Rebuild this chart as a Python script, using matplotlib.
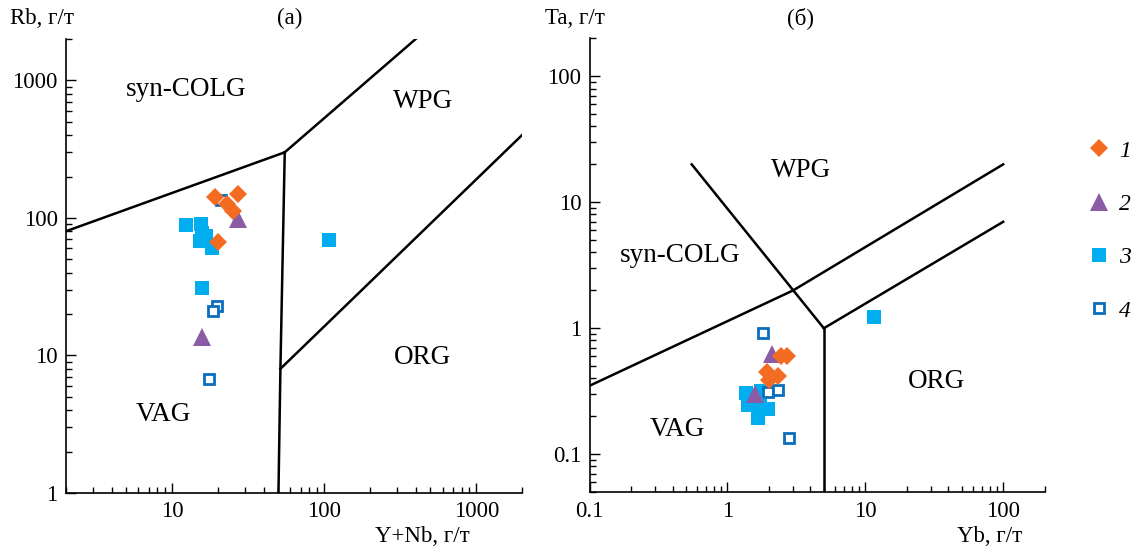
import matplotlib
matplotlib.use("Agg")
import matplotlib.pyplot as plt
from matplotlib.lines import Line2D

plt.rcParams['font.family'] = ['Liberation Serif', 'DejaVu Serif']

# --- data: panel (а) Rb vs Y+Nb ---
a_ynb_1 = [19, 27, 23, 25, 20]
a_rb_1 = [141, 150, 126, 113, 67]
a_ynb_2 = [27, 15.8]
a_rb_2 = [98, 13.7]
a_ynb_3 = [12.3, 15.4, 15.6, 16.8, 15.2, 18.2, 15.7, 108]
a_rb_3 = [89, 90, 78, 74, 68, 60, 31, 69]
a_ynb_4 = [21, 19.6, 18.5, 17.5]
a_rb_4 = [135, 23, 21, 6.7]

# --- data: panel (б) Ta vs Yb ---
b_yb_1 = [1.92, 2.33, 2.0, 2.45, 2.7]
b_ta_1 = [0.45, 0.42, 0.39, 0.60, 0.60]
b_yb_2 = [2.12, 1.58]
b_ta_2 = [0.63, 0.30]
b_yb_3 = [1.37, 1.41, 1.71, 1.97, 1.67, 1.76, 11.5]
b_ta_3 = [0.305, 0.245, 0.24, 0.23, 0.195, 0.32, 1.22]
b_yb_4 = [1.81, 1.97, 2.33, 2.79]
b_ta_4 = [0.91, 0.314, 0.324, 0.135]

# discrimination boundaries (Pearce et al., 1984)
a_bounds = [
    ([2, 55], [80, 300]),
    ([55, 400], [300, 2000]),
    ([55, 51.5, 50], [300, 8, 1]),
    ([51.5, 2000], [8, 400]),
]
b_bounds = [
    ([0.1, 3, 100], [0.35, 2, 20]),
    ([0.55, 3, 5], [20, 2, 1]),
    ([5, 5], [1, 0.05]),
    ([5, 100], [1, 7]),
]

c_orange = '#F36C21'
c_purple = '#8B5BA6'
c_cyan = '#00AEEF'
c_blue = '#0A6EBD'

styles = [
    dict(marker='D', color=c_orange, ms=9.5, mew=0, ls='none'),
    dict(marker='^', color=c_purple, ms=13, mew=0, ls='none'),
    dict(marker='s', color=c_cyan, ms=9.5, mew=0, ls='none'),
    dict(marker='s', mfc='white', mec=c_blue, ms=7.5, mew=2, ls='none'),
]

fig = plt.figure(figsize=(11.37, 5.53), dpi=100)
ax1 = fig.add_axes([0.0580, 0.1085, 0.4011, 0.8210])
ax2 = fig.add_axes([0.5186, 0.1100, 0.4002, 0.8206])

fs_tick = 16.5
fs_zone = 19.5

def style_axes(ax, xlim, ylim, xt, yt):
    ax.set_xscale('log')
    ax.set_yscale('log')
    ax.set_xlim(*xlim)
    ax.set_ylim(*ylim)
    ax.spines['top'].set_visible(False)
    ax.spines['right'].set_visible(False)
    for s in ('left', 'bottom'):
        ax.spines[s].set_linewidth(1.2)
    ax.set_xticks(xt)
    ax.set_xticklabels([('%g' % v) for v in xt])
    ax.set_yticks(yt)
    ax.set_yticklabels([('%g' % v) for v in yt])
    ax.tick_params(which='major', direction='in', length=7, width=1, labelsize=fs_tick, pad=6)
    ax.tick_params(which='minor', direction='in', length=4.5, width=1)

# panel (а)
for xs, ys in a_bounds:
    ax1.plot(xs, ys, color='black', lw=1.8)
for xs, ys, st in zip([a_ynb_4, a_ynb_3, a_ynb_2, a_ynb_1],
                      [a_rb_4, a_rb_3, a_rb_2, a_rb_1],
                      [styles[3], styles[2], styles[1], styles[0]]):
    ax1.plot(xs, ys, **st)
style_axes(ax1, (2, 2000), (1, 2000), [10, 100, 1000], [1, 10, 100, 1000])
ax1.text(12.4, 860, 'syn-COLG', fontsize=fs_zone, ha='center', va='center')
ax1.text(450, 700, 'WPG', fontsize=fs_zone, ha='center', va='center')
ax1.text(440, 9.7, 'ORG', fontsize=fs_zone, ha='center', va='center')
ax1.text(8.7, 3.7, 'VAG', fontsize=fs_zone, ha='center', va='center')

# panel (б)
for xs, ys in b_bounds:
    ax2.plot(xs, ys, color='black', lw=1.8)
for xs, ys, st in zip([b_yb_3, b_yb_2, b_yb_4, b_yb_1],
                      [b_ta_3, b_ta_2, b_ta_4, b_ta_1],
                      [styles[2], styles[1], styles[3], styles[0]]):
    ax2.plot(xs, ys, **st)
style_axes(ax2, (0.1, 200), (0.05, 200), [0.1, 1, 10, 100], [0.1, 1, 10, 100])
ax2.text(3.44, 18, 'WPG', fontsize=fs_zone, ha='center', va='center')
ax2.text(0.456, 3.8, 'syn-COLG', fontsize=fs_zone, ha='center', va='center')
ax2.text(33, 0.375, 'ORG', fontsize=fs_zone, ha='center', va='center')
ax2.text(0.436, 0.156, 'VAG', fontsize=fs_zone, ha='center', va='center')

# axis captions and panel letters
W, H = 1137.0, 553.0
fig.text(10 / W, 1 - 18 / H, 'Rb, г/т', fontsize=fs_tick, ha='left', va='center')
fig.text(290 / W, 1 - 18 / H, '(а)', fontsize=fs_tick, ha='center', va='center')
fig.text(470 / W, 1 - 537 / H, 'Y+Nb, г/т', fontsize=fs_tick, ha='right', va='center')
fig.text(545 / W, 1 - 18 / H, 'Ta, г/т', fontsize=fs_tick, ha='left', va='center')
fig.text(800 / W, 1 - 18 / H, '(б)', fontsize=fs_tick, ha='center', va='center')
fig.text(1022 / W, 1 - 537 / H, 'Yb, г/т', fontsize=fs_tick, ha='right', va='center')

handles = [Line2D([], [], **st) for st in styles]
fig.legend(handles, ['1', '2', '3', '4'], loc='upper left',
           bbox_to_anchor=(1087 / W, 1 - 140 / H), frameon=False,
           borderpad=0, borderaxespad=0,
           handlelength=1.0, handletextpad=0.35, labelspacing=1.35,
           prop={'family': 'Liberation Serif', 'style': 'italic', 'size': 17})

fig.savefig('out.png', dpi=100)
